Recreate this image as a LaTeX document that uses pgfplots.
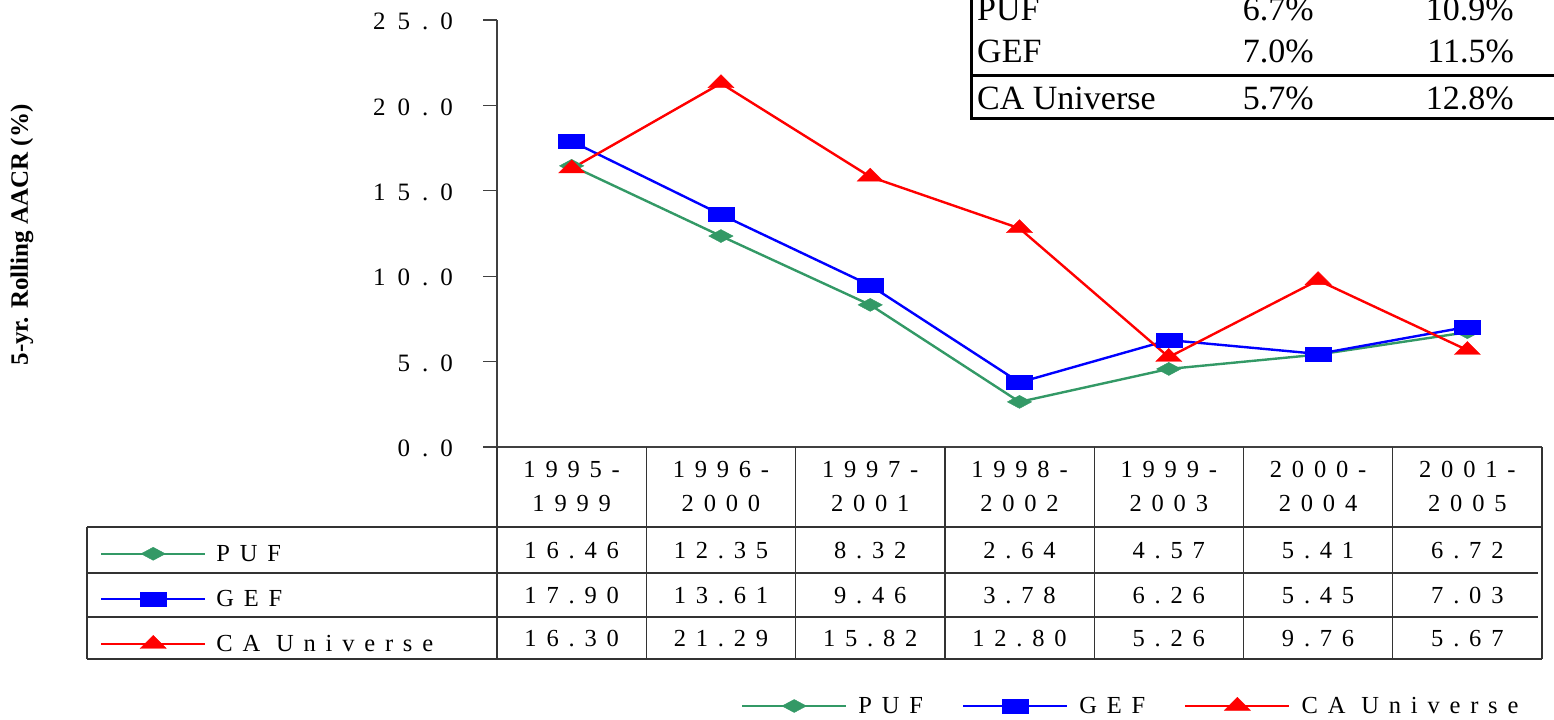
\documentclass[border=0pt]{standalone}
\usepackage{fontspec}
\setmainfont{Liberation Serif}
\newfontfamily\lsfont[LetterSpace=40]{Liberation Serif}
\newfontfamily\lsfontw[LetterSpace=48]{Liberation Serif}
\usepackage{pgfplots}
\pgfplotsset{compat=1.18}
\definecolor{pufgreen}{RGB}{51,153,102}
\definecolor{gefblue}{RGB}{0,0,255}
\definecolor{cared}{RGB}{255,0,0}
\newcommand{\tf}{\lsfont\fontsize{24.5bp}{28bp}\selectfont}
\newcommand{\tyf}{\lsfontw\fontsize{25bp}{28bp}\selectfont}
\pgfplotsset{
  limg/.style={legend image code/.code={\draw[mark repeat=2,mark phase=2] plot coordinates {(0bp,0bp) (52bp,0bp) (104bp,0bp)};}},
  puf/.style={pufgreen, line width=2.4bp, mark=diamond*, mark size=6.5bp, mark options={solid, line width=0.4bp, xscale=2.5}, limg},
  gef/.style={gefblue, line width=2.4bp, mark=square*, mark size=7bp, mark options={solid, line width=0.4bp, xscale=1.86}, limg},
  cau/.style={cared, line width=2.4bp, mark=triangle*, mark size=8.7bp, mark options={solid, line width=0.4bp, xscale=1.73}, limg},
}
\begin{document}
\begin{tikzpicture}[x=1bp,y=1bp]
\path[use as bounding box, clip] (0,0) rectangle (1554,720);
\begin{axis}[
  scale only axis, width=1045bp, height=427bp,
  at={(497bp,273bp)}, anchor=south west,
  xmin=-0.5, xmax=6.5, ymin=0, ymax=25,
  axis x line*=bottom, axis y line*=left,
  axis line style={black!75, line width=1.2bp, -},
  xtick=\empty,
  ytick={0,5,10,15,20,25},
  yticklabels={0.0,5.0,10.0,15.0,20.0,25.0},
  tick align=outside, major tick length=14bp,
  tick style={black!75, line width=1.2bp},
  yticklabel style={font=\tyf, anchor=east, inner sep=0pt, xshift=-30bp, yshift=-1.5bp},
  clip=false,
]
\addplot[puf] coordinates {(0,16.46) (1,12.35) (2,8.32) (3,2.64) (4,4.57) (5,5.41) (6,6.72)};
\addplot[gef] coordinates {(0,17.90) (1,13.61) (2,9.46) (3,3.78) (4,6.26) (5,5.45) (6,7.03)};
\addplot[cau] coordinates {(0,16.30) (1,21.29) (2,15.82) (3,12.80) (4,5.26) (5,9.76) (6,5.67)};
\end{axis}
% hidden axis for the legend inside the data table
\begin{axis}[
  hide axis, scale only axis, width=1554bp, height=720bp,
  at={(0bp,0bp)}, anchor=south west,
  xmin=0, xmax=1, ymin=0, ymax=1,
  legend columns=1,
  legend cell align=left,
  legend style={at={(100/1554,121/720)}, anchor=west, draw=none, fill=none,
    inner sep=0pt, outer sep=0pt, font=\tf, row sep=27.5bp, column sep=10bp,
    nodes={inner sep=0pt}},
]
\addlegendimage{puf}\addlegendentry{PUF}
\addlegendimage{gef}\addlegendentry{GEF}
\addlegendimage{cau}\addlegendentry{CA Universe}
\end{axis}
% hidden axis for the bottom legend
\begin{axis}[
  hide axis, scale only axis, width=1554bp, height=720bp,
  at={(0bp,0bp)}, anchor=south west,
  xmin=0, xmax=1, ymin=0, ymax=1,
  legend columns=3,
  legend style={at={(741/1554,14/720)}, anchor=west, draw=none, fill=none,
    inner sep=0pt, outer sep=0pt, font=\tf, column sep=11bp,
    nodes={inner sep=0pt},
    /tikz/every even column/.append style={column sep=39bp}},
]
\addlegendimage{puf}\addlegendentry{PUF}
\addlegendimage{gef}\addlegendentry{GEF}
\addlegendimage{cau}\addlegendentry{CA Universe}
\end{axis}
% data table grid
\begin{scope}[black!80, line width=1.3bp]
\foreach \x in {646.29,795.57,944.86,1094.14,1243.43,1392.71} \draw (\x,273) -- (\x,61);
\draw (497,273) -- (497,61);
\draw (1542,273) -- (1542,61);
\draw (87,193) -- (1542,193);
\draw (87,147) -- (1538,147);
\draw (87,103) -- (1538,103);
\draw (87,61) -- (1542,61);
\draw (87,193) -- (87,61);
\end{scope}
\foreach \i/\a/\b in {0/1995-/1999,1/1996-/2000,2/1997-/2001,3/1998-/2002,4/1999-/2003,5/2000-/2004,6/2001-/2005} {
  \node[anchor=base, font=\tf, inner sep=0pt] at ({497+149.2857*(\i+0.5)},242) {\a};
  \node[anchor=base, font=\tf, inner sep=0pt] at ({497+149.2857*(\i+0.5)},208) {\b};
}
\foreach \i/\p/\g/\c in {0/16.46/17.90/16.30,1/12.35/13.61/21.29,2/8.32/9.46/15.82,3/2.64/3.78/12.80,4/4.57/6.26/5.26,5/5.41/5.45/9.76,6/6.72/7.03/5.67} {
  \node[anchor=base, font=\tf, inner sep=0pt] at ({497+149.2857*(\i+0.5)},161) {\p};
  \node[anchor=base, font=\tf, inner sep=0pt] at ({497+149.2857*(\i+0.5)},116) {\g};
  \node[anchor=base, font=\tf, inner sep=0pt] at ({497+149.2857*(\i+0.5)},73) {\c};
}
% y label
\node[rotate=90, font=\bfseries\fontsize{25bp}{30bp}\selectfont, inner sep=0pt] at (22,485) {5-yr. Rolling AACR (\%)};
% inset summary table
\draw[line width=3bp] (971,730) -- (971,601) -- (1560,601);
\draw[line width=3bp] (971,644) -- (1560,644);
\begin{scope}[every node/.style={inner sep=0pt, font=\fontsize{34bp}{38bp}\selectfont}]
\node[anchor=base west] at (977,699) {PUF}; \node[anchor=base east] at (1314,699) {6.7\%}; \node[anchor=base east] at (1514,699) {10.9\%};
\node[anchor=base west] at (977,657) {GEF}; \node[anchor=base east] at (1314,657) {7.0\%}; \node[anchor=base east] at (1514,657) {11.5\%};
\node[anchor=base west] at (977,610) {CA Universe}; \node[anchor=base east] at (1314,610) {5.7\%}; \node[anchor=base east] at (1514,610) {12.8\%};
\end{scope}
\end{tikzpicture}
\end{document}
